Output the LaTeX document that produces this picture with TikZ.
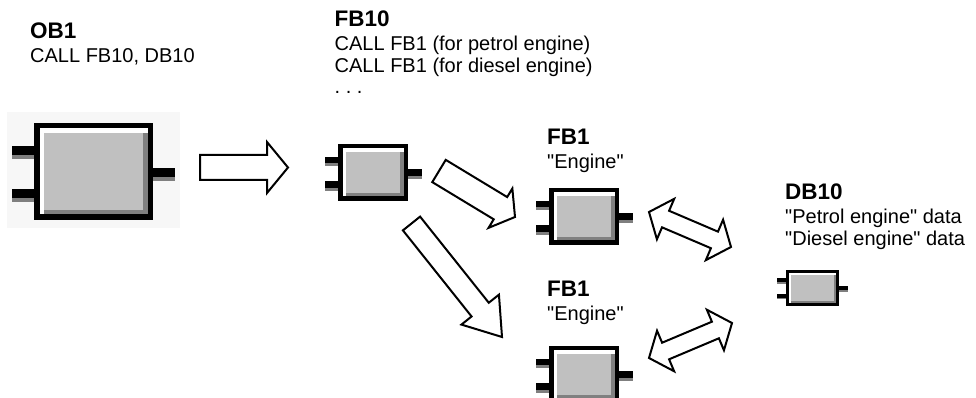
\documentclass[tikz,border=0pt]{standalone}
\usepackage{fontspec}
\setmainfont{Liberation Sans}[Ligatures=TeXOff]
\usepackage{tikz}
\usetikzlibrary{calc}

\definecolor{blockgray}{HTML}{C0C0C0}
\definecolor{blockshadow}{HTML}{808080}
\definecolor{pingray}{HTML}{7F7F7F}
\definecolor{framebg}{HTML}{F7F7F7}

\tikzset{
    fblock/.style={
        rectangle, draw=black, fill=blockgray, inner sep=0pt, outer sep=0pt
    },
    block label/.style={
        anchor=north west, align=left, inner sep=0pt,
        font=\fontsize{20}{21.5}\selectfont\frenchspacing
    },
    call arrow/.style={
        draw=black, fill=white, line width=2pt, line join=miter
    },
}

\newcommand\blocktitle[1]{{\fontsize{22.5}{22}\selectfont\bfseries #1}}

% function block: name, centre, width, height, frame, pin thickness, pin length
\newcommand\funcblock[7]{%
    \node[fblock, line width=#5pt, minimum width={#3-#5}, minimum height={#4-#5}] (#1) at (#2) {};
    \fill[white] ($(#1.north west)+(#5/2,-#5/2)$) rectangle ($(#1.north east)+(-#5/2,-1.3*#5)$);
    \fill[white] ($(#1.north west)+(#5/2,-#5/2)$) rectangle ($(#1.south west)+(1.3*#5,#5/2)$);
    \fill[blockshadow] ($(#1.north east)+(-#5/2,-1.3*#5)$) rectangle ($(#1.south east)+(-1.3*#5,#5/2)$);
    \fill[blockshadow] ($(#1.south west)+(1.3*#5,#5/2)$) rectangle ($(#1.south east)+(-#5/2,1.3*#5)$);
    \coordinate (#1-in1) at ($(#1.north west)!0.29!(#1.south west)$);
    \coordinate (#1-in2) at ($(#1.north west)!0.76!(#1.south west)$);
    \coordinate (#1-out) at ($(#1.north east)!0.53!(#1.south east)$);
    \foreach \pinpt in {#1-in1,#1-in2} {
        \fill[pingray] ($(\pinpt)+(-#5/2-#7,#6/2)$) rectangle ($(\pinpt)+(-#5/2,-#6/2)$);
        \fill[black] ($(\pinpt)+(-#5/2-#7,#6/2)$) rectangle ($(\pinpt)+(-#5/2,-0.2*#6)$);
    }
    \fill[pingray] ($(#1-out)+(#5/2,#6/2)$) rectangle ($(#1-out)+(#5/2+#7,-#6/2)$);
    \fill[black] ($(#1-out)+(#5/2,#6/2)$) rectangle ($(#1-out)+(#5/2+#7,-0.2*#6)$);
}

% block arrow: tail, tip, shaft half width, head half width, head length
\newcommand\blockarrow[5]{%
    \draw[call arrow] let \p1=($(#2)-(#1)$), \n1={atan2(\y1,\x1)}, \n2={veclen(\x1,\y1)-#5} in
        ($(#1)+({\n1+90}:#3)$) -- ($(#1)+(\n1:\n2)+({\n1+90}:#3)$)
        -- ($(#1)+(\n1:\n2)+({\n1+90}:#4)$) -- (#2)
        -- ($(#1)+(\n1:\n2)+({\n1-90}:#4)$) -- ($(#1)+(\n1:\n2)+({\n1-90}:#3)$)
        -- ($(#1)+({\n1-90}:#3)$) -- cycle;
}

% double block arrow: end, end, shaft half width, head half width, head length
\newcommand\dblarrow[5]{%
    \draw[call arrow] let \p1=($(#2)-(#1)$), \n1={atan2(\y1,\x1)}, \n2={veclen(\x1,\y1)-#5} in
        (#1) -- ($(#1)+(\n1:#5)+({\n1+90}:#4)$) -- ($(#1)+(\n1:#5)+({\n1+90}:#3)$)
        -- ($(#1)+(\n1:\n2)+({\n1+90}:#3)$) -- ($(#1)+(\n1:\n2)+({\n1+90}:#4)$) -- (#2)
        -- ($(#1)+(\n1:\n2)+({\n1-90}:#4)$) -- ($(#1)+(\n1:\n2)+({\n1-90}:#3)$)
        -- ($(#1)+(\n1:#5)+({\n1-90}:#3)$) -- ($(#1)+(\n1:#5)+({\n1-90}:#4)$) -- cycle;
}

\begin{document}
\begin{tikzpicture}[x=1pt, y=1pt]
    \useasboundingbox (0,0) rectangle (976,398);
    \clip (0,0) rectangle (976,398);

    % OB1 backdrop
    \fill[framebg] (7,170) rectangle (180,286);

    \funcblock{ob1}{93.5,226.5}{119}{97}{5.5}{13}{22}
    \funcblock{fb10}{373,225.5}{70}{57}{4.5}{9.5}{13.5}
    \funcblock{fb1a}{584,181.5}{70}{57}{4.5}{9.5}{13.5}
    \funcblock{fb1b}{584,23.5}{70}{57}{4.5}{9.5}{13.5}
    \funcblock{db10}{812.5,110}{53}{36}{3}{5.5}{9}

    % Labels
    \node[block label] (ob1 label) at (30,375.1) {\blocktitle{OB1}\\[2.5pt]CALL FB10, DB10};
    \node[block label] (fb10 label) at (334.5,387.1) {\blocktitle{FB10}\\[2.5pt]CALL FB1 (for petrol engine)\\CALL FB1 (for diesel engine)\\. . .};
    \node[block label] (fb1a label) at (547,269.1) {\blocktitle{FB1}\\[2.5pt]"Engine"};
    \node[block label] (fb1b label) at (547,117.1) {\blocktitle{FB1}\\[2.5pt]"Engine"};
    \node[block label] (db10 label) at (785,214.1) {\blocktitle{DB10}\\[2.5pt]"Petrol engine" data\\"Diesel engine" data};

    % Calls
    \coordinate (ob1 call) at (200,230.5);
    \coordinate (fb10 entry) at (288,230.5);
    \coordinate (fb10 call a) at (439,227);
    \coordinate (fb1a entry) at (515,181);
    \coordinate (fb10 call b) at (411.5,174.5);
    \coordinate (fb1b entry) at (502,61);
    \blockarrow{ob1 call}{fb10 entry}{12.5}{25.5}{21}
    \blockarrow{fb10 call a}{fb1a entry}{13}{23}{17}
    \blockarrow{fb10 call b}{fb1b entry}{11}{24}{35}

    % Data access
    \coordinate (fb1a data) at (649,186);
    \coordinate (db10 a) at (731,151);
    \coordinate (fb1b data) at (649,40);
    \coordinate (db10 b) at (732,75);
    \dblarrow{fb1a data}{db10 a}{9}{22}{18}
    \dblarrow{fb1b data}{db10 b}{9}{22}{18}
\end{tikzpicture}
\end{document}
